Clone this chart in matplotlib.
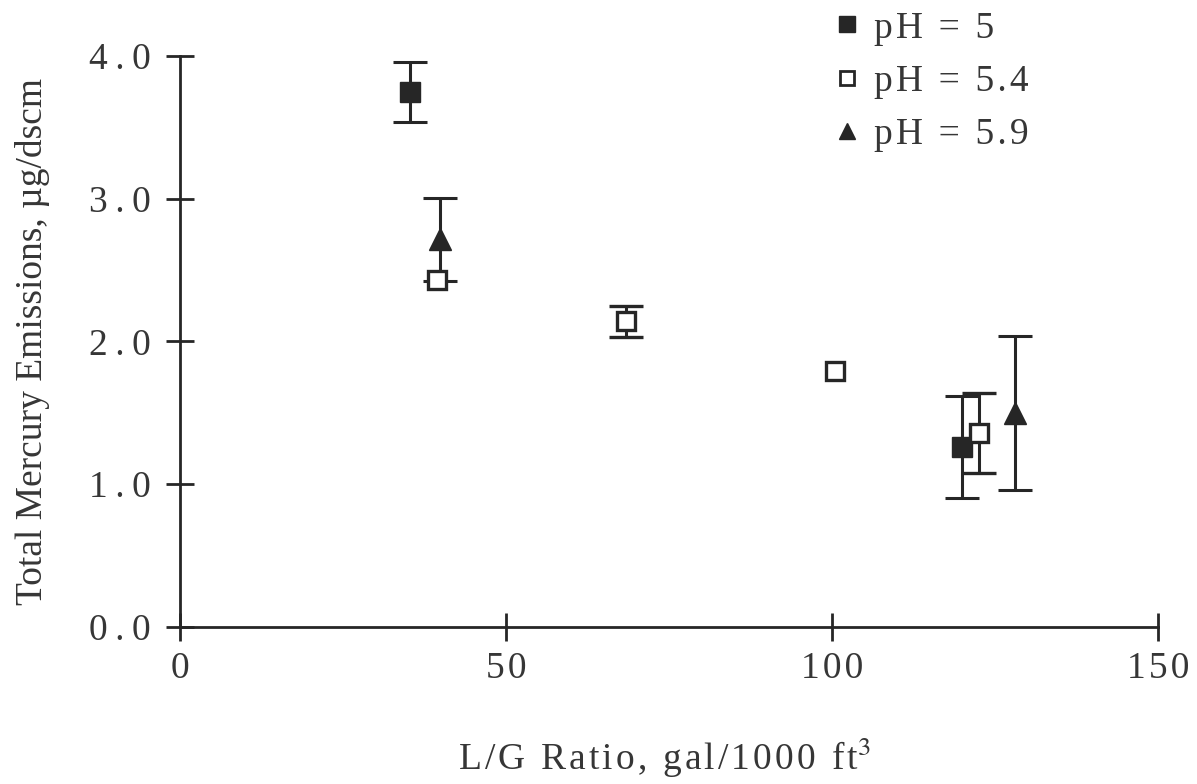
import matplotlib.pyplot as plt
from matplotlib.lines import Line2D

plt.rcParams['font.family'] = ['Liberation Serif', 'DejaVu Serif']
plt.rcParams['mathtext.fontset'] = 'stix'

nan = float("nan")

# L/G ratio (gal/1000 ft3) and total Hg emissions (ug/dscm) by scrubber pH
lg_ph50 = [35.3, 120.0]
hg_ph50 = [3.75, 1.26]
err_ph50 = [0.21, 0.36]

lg_ph54 = [39.4, 68.4, 100.5, 122.6]
hg_ph54 = [2.43, 2.14, 1.79, 1.36]
err_ph54 = [nan, 0.11, nan, 0.28]

lg_ph59 = [39.9, 128.1]
hg_ph59 = [2.715, 1.50]
err_ph59 = [0.29, 0.54]

labels = ["pH = 5", "pH = 5.4", "pH = 5.9"]
xticks = [0, 50, 100, 150]
yticks = [0.0, 1.0, 2.0, 3.0, 4.0]

ink = "#262626"
txt = "#363636"
fs = 27


def spread(s, gap="\u2009"):
    # loose letter spacing, like the old typeset figure
    return gap.join(s)


fig = plt.figure(figsize=(11.97, 7.84), dpi=100)
ax = fig.add_axes([0.1504, 0.2003, 0.817, 0.7283])

common = dict(ls="none", ecolor=ink, elinewidth=2.2, capsize=12, capthick=2.2)
ax.errorbar(lg_ph50, hg_ph50, yerr=err_ph50, marker="s", ms=15,
            mfc=ink, mec=ink, **common)
ax.errorbar(lg_ph54, hg_ph54, yerr=err_ph54, marker="s", ms=13,
            mfc="white", mec=ink, mew=2.4, zorder=3, **common)
ax.errorbar(lg_ph59, hg_ph59, yerr=err_ph59, marker="^", ms=16,
            mfc=ink, mec=ink, **common)

ax.set_xlim(0, 150)
ax.set_ylim(0, 4.0)
ax.set_xticks(xticks)
ax.set_xticklabels([spread(str(v), "\u200a") for v in xticks])
ax.set_yticks(yticks)
ax.set_yticklabels([spread(f"{v:.1f}") for v in yticks])

for side in ("top", "right"):
    ax.spines[side].set_visible(False)
for side in ("left", "bottom"):
    ax.spines[side].set_linewidth(2.0)
    ax.spines[side].set_color(ink)

ax.tick_params(axis="both", direction="inout", length=20, width=2.0,
               colors=ink, labelsize=fs, labelcolor=txt)
ax.tick_params(axis="y", pad=11)
ax.tick_params(axis="x", pad=8)

ax.set_xlabel(spread("L/G Ratio, gal/1000 ft", "\u200a") + "$^{3}$",
              fontsize=fs, color=txt)
ax.set_ylabel("Total Mercury Emissions, µg/dscm", fontsize=fs, color=txt)
ax.xaxis.set_label_coords(0.495, -0.19)
ax.yaxis.set_label_coords(-0.133, 0.5)

handles = [
    Line2D([], [], ls="none", marker="s", ms=11, mfc=ink, mec=ink),
    Line2D([], [], ls="none", marker="s", ms=10, mfc="white", mec=ink, mew=2),
    Line2D([], [], ls="none", marker="^", ms=12, mfc=ink, mec=ink),
]
fig.legend(handles, [spread(s, "\u200a") for s in labels], loc="upper left",
           bbox_to_anchor=(0.686, 1.005),
           frameon=False, fontsize=fs, handlelength=0.6, handletextpad=0.4,
           labelspacing=0.5, borderaxespad=0.0, labelcolor=txt)

fig.savefig("out.png", dpi=100, facecolor="white")
